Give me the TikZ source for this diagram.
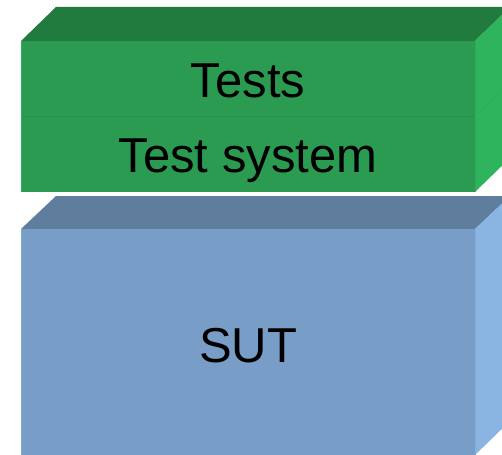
\documentclass[tikz,border=0pt]{standalone}
\usepackage{fontspec}
\setmainfont{Liberation Sans}
\definecolor{gfront}{HTML}{2A9B50}
\definecolor{gtop}{HTML}{217B3F}
\definecolor{gside}{HTML}{2EB45C}
\definecolor{gline}{HTML}{27914B}
\definecolor{bfront}{HTML}{789DC7}
\definecolor{btop}{HTML}{5F7E9E}
\definecolor{bside}{HTML}{8AB4E2}
\tikzset{
  lbl/.style={font=\fontsize{49}{56}\selectfont, text=black, inner sep=0pt, anchor=base},
}
\begin{document}
\begin{tikzpicture}[x=1pt,y=-1pt]
\useasboundingbox (0,0) rectangle (502,454);
\begin{scope}
\clip (0,0) rectangle (502,454);
% green stack: Tests (41-116) and Test system (116-192)
\fill[gtop] (21,41) -- (56,7) -- (510,7) -- (475,41) -- cycle;
\fill[gside] (475,41) -- (510,7) -- (510,158) -- (475,192) -- cycle;
\fill[gfront] (21,41) rectangle (475,192);
\draw[gline, line width=0.8pt] (21,116.5) -- (475,116.5);
\draw[gside!80!gfront, line width=0.8pt] (475,116.5) -- (510,82.5);
\draw[gside!70!gfront, line width=0.8pt] (475,41) -- (475,192);
\draw[gside!60!gfront, line width=0.8pt] (21.4,41) -- (21.4,192);
% blue box: SUT (229-455)
\fill[btop] (21,229) -- (56,196) -- (510,196) -- (475,229) -- cycle;
\fill[bside] (475,229) -- (510,196) -- (510,421) -- (475,455) -- cycle;
\fill[bfront] (21,229) rectangle (475,460);
\draw[bside!70!bfront, line width=0.8pt] (475,229) -- (475,460);
\draw[bside!60!bfront, line width=0.8pt] (21.4,229) -- (21.4,460);
\end{scope}
\node[lbl] (tests) at (248,98) {Tests};
\node[lbl] (testsys) at (248,173) {Test system};
\node[lbl] (sut) at (248,362) {SUT};
\end{tikzpicture}
\end{document}
